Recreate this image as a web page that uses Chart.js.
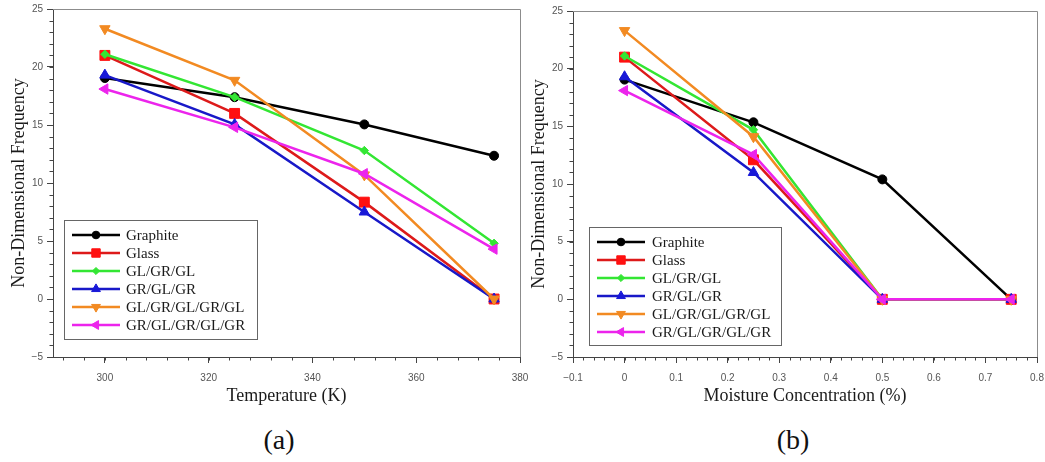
<!DOCTYPE html>
<html>
<head>
<meta charset="utf-8">
<script src="https://cdn.jsdelivr.net/npm/chart.js@4/dist/chart.umd.min.js"></script>
<style>
  html, body { margin: 0; padding: 0; background: #fff; }
  body { width: 1045px; height: 462px; position: relative; overflow: hidden; }
  canvas { position: absolute; top: 0; }
  #ca { left: 0; }
  #cb { left: 520px; }
  .cap { position: absolute; font-family: "Liberation Serif", "Times New Roman", serif; font-size: 28px; color: #111; transform: translate(-50%, -50%); white-space: nowrap; }
</style>
</head>
<body>
<canvas id="ca" width="530" height="420"></canvas>
<canvas id="cb" width="525" height="420"></canvas>
<div class="cap" style="left:279px; top:440px;">(a)</div>
<div class="cap" style="left:793px; top:440px;">(b)</div>
<script>
// ---------- DATA ----------
const seriesNames = ['Graphite', 'Glass', 'GL/GR/GL', 'GR/GL/GR', 'GL/GR/GL/GR/GL', 'GR/GL/GR/GL/GR'];

// (a) Temperature (K)
const temperatureK = [300, 325, 350, 375];
const graphiteA = [19.05, 17.4, 15.05, 12.35];
const glassA    = [21.0, 16.0, 8.35, 0];
const glgrglA   = [21.1, 17.4, 12.8, 4.8];
const grglgrA   = [19.3, 15.05, 7.5, 0];
const glgrglgrglA = [23.3, 18.85, 10.7, 0];
const grglgrglgrA = [18.1, 14.8, 10.8, 4.3];

// (b) Moisture Concentration (%)
const moisturePct = [0, 0.25, 0.5, 0.75];
const graphiteB = [19.05, 15.35, 10.4, 0];
const glassB    = [21.0, 12.1, 0, 0];
const glgrglB   = [21.1, 14.7, 0, 0];
const grglgrB   = [19.3, 11.0, 0, 0];
const glgrglgrglB = [23.3, 14.1, 0, 0];
const grglgrglgrB = [18.1, 12.55, 0, 0];

// tick labels
const yTickValues = [-5, 0, 5, 10, 15, 20, 25];
const xTickValuesA = [300, 320, 340, 360, 380];
const xTickValuesB = [-0.1, 0, 0.1, 0.2, 0.3, 0.4, 0.5, 0.6, 0.7, 0.8];

// ---------- STYLES ----------
const styles = [
  { line: '#000000', fill: '#000000', pointStyle: 'circle',   radius: 4.5, rotation: 0 },
  { line: '#dd1a1a', fill: '#ff1010', pointStyle: 'rect',     radius: 7,   rotation: 0 },
  { line: '#33e633', fill: '#33e633', pointStyle: 'rectRot',  radius: 4.2, rotation: 0 },
  { line: '#1818c8', fill: '#1818d8', pointStyle: 'triangle', radius: 6,   rotation: 0 },
  { line: '#f28a22', fill: '#f28a22', pointStyle: 'triangle', radius: 6,   rotation: 180 },
  { line: '#ec24ec', fill: '#ec24ec', pointStyle: 'triangle', radius: 6,   rotation: -90 }
];

const serif = '"Liberation Serif", "Times New Roman", serif';
const sans = '"Liberation Sans", Arial, sans-serif';
const axisColor = '#444';

function fmt(v) { return String(Math.round(v * 1000) / 1000).replace('-', '\u2212'); }

function makeDatasets(xs, seriesList) {
  return seriesList.map((vals, i) => ({
    label: seriesNames[i],
    data: xs.map((x, k) => ({ x: x, y: vals[k] })),
    borderColor: styles[i].line,
    backgroundColor: styles[i].fill,
    pointBackgroundColor: styles[i].fill,
    pointBorderColor: styles[i].fill,
    pointBorderWidth: 1,
    pointStyle: styles[i].pointStyle,
    pointRadius: styles[i].radius,
    pointRotation: styles[i].rotation,
    borderWidth: 2.5,
    tension: 0,
    order: seriesList.length - 1 - i,
    clip: false
  }));
}

function drawMarker(ctx, st, x, y, scale) {
  const opts = { pointStyle: st.pointStyle, radius: st.radius * scale, rotation: st.rotation, borderWidth: 1 };
  ctx.fillStyle = st.fill; ctx.strokeStyle = st.fill; ctx.lineWidth = 1;
  if (Chart.helpers && Chart.helpers.drawPoint) {
    Chart.helpers.drawPoint(ctx, opts, x, y);
  } else {
    ctx.beginPath(); ctx.arc(x, y, opts.radius, 0, Math.PI * 2); ctx.fill();
  }
}

const framePlugin = {
  id: 'frameMinor',
  afterDraw(chart, args, opts) {
    const { ctx, chartArea: a } = chart;
    const xs = chart.scales.x, ys = chart.scales.y;
    ctx.save();
    ctx.strokeStyle = '#8c8c8c'; ctx.lineWidth = 1;
    ctx.beginPath();
    ctx.moveTo(a.left, Math.round(a.top) + 0.5);
    ctx.lineTo(Math.round(a.right) + 0.5, Math.round(a.top) + 0.5);
    ctx.lineTo(Math.round(a.right) + 0.5, a.bottom);
    ctx.stroke();
    ctx.strokeStyle = axisColor; ctx.lineWidth = 1;
    ctx.beginPath();
    for (let i = 0; i <= opts.xMinorCount; i++) {
      const v = opts.xMinorStart + i * opts.xMinorStep;
      const px = Math.round(xs.getPixelForValue(v)) + 0.5;
      ctx.moveTo(px, a.bottom); ctx.lineTo(px, a.bottom + 3.5);
    }
    for (let v = -5; v <= 25; v++) {
      const py = Math.round(ys.getPixelForValue(v)) + 0.5;
      ctx.moveTo(a.left, py); ctx.lineTo(a.left - 3.5, py);
    }
    ctx.stroke();
    ctx.restore();
  }
};

const legendPlugin = {
  id: 'boxLegend',
  afterDraw(chart, args, o) {
    const ctx = chart.ctx;
    ctx.save();
    ctx.fillStyle = '#fff';
    ctx.fillRect(o.x, o.y, o.w, o.h);
    ctx.strokeStyle = '#666'; ctx.lineWidth = 1;
    ctx.strokeRect(o.x + 0.5, o.y + 0.5, o.w, o.h);
    chart.data.datasets.forEach((ds, i) => {
      const cy = o.y + o.row0 + i * o.rowStep;
      const st = styles[i];
      ctx.strokeStyle = st.line; ctx.lineWidth = 2.5;
      ctx.beginPath(); ctx.moveTo(o.lx1, cy); ctx.lineTo(o.lx2, cy); ctx.stroke();
      drawMarker(ctx, st, (o.lx1 + o.lx2) / 2, cy, 0.85);
      ctx.fillStyle = '#1a1a1a';
      ctx.font = '15px ' + serif;
      ctx.textBaseline = 'middle'; ctx.textAlign = 'left';
      ctx.fillText(ds.label, o.tx, cy + 1);
    });
    ctx.restore();
  }
};

function makeChart(id, cfg) {
  return new Chart(document.getElementById(id), {
    type: 'line',
    data: { datasets: makeDatasets(cfg.xs, cfg.series) },
    options: {
      responsive: false,
      animation: false,
      events: [],
      layout: { padding: { top: cfg.padTop, right: cfg.padRight, left: 0, bottom: 0 } },
      scales: {
        x: {
          type: 'linear',
          min: cfg.xMin, max: cfg.xMax,
          afterBuildTicks: s => { s.ticks = cfg.xTicks.map(v => ({ value: v })); },
          afterFit: s => { s.height = 420 - 357; s.paddingLeft = 0; s.paddingRight = 0; },
          ticks: { font: { family: sans, size: 10 }, color: '#555', padding: 9, callback: v => fmt(v), maxRotation: 0, autoSkip: false },
          grid: { drawOnChartArea: false, drawTicks: true, tickLength: 6, color: axisColor },
          border: { display: true, color: axisColor, width: 1 },
          title: { display: true, text: cfg.xTitle, font: { family: serif, size: 18 }, color: '#1a1a1a', padding: { top: 0, bottom: 13 } }
        },
        y: {
          type: 'linear',
          min: -5, max: 25,
          afterBuildTicks: s => { s.ticks = yTickValues.map(v => ({ value: v })); },
          afterFit: s => { s.width = 53; s.paddingTop = 0; s.paddingBottom = 0; },
          ticks: { font: { family: sans, size: 10 }, color: '#555', padding: 4, callback: v => fmt(v), autoSkip: false },
          grid: { drawOnChartArea: false, drawTicks: true, tickLength: 6, color: axisColor },
          border: { display: true, color: axisColor, width: 1 },
          title: { display: true, text: 'Non-Dimensional Frequency', font: { family: serif, size: 18 }, color: '#1a1a1a', padding: { top: 8, bottom: 0 } }
        }
      },
      plugins: {
        legend: { display: false },
        tooltip: { enabled: false },
        frameMinor: cfg.minor,
        boxLegend: cfg.legend
      }
    },
    plugins: [framePlugin, legendPlugin]
  });
}

makeChart('ca', {
  xs: temperatureK,
  series: [graphiteA, glassA, glgrglA, grglgrA, glgrglgrglA, grglgrglgrA],
  xMin: 290, xMax: 380, xTicks: xTickValuesA,
  xTitle: 'Temperature (K)',
  padTop: 9, padRight: 10,
  minor: { xMinorStart: 292, xMinorStep: 4, xMinorCount: 22 },
  legend: { x: 64, y: 220, w: 193, h: 119, row0: 15, rowStep: 18, lx1: 72, lx2: 120, tx: 126 }
});

makeChart('cb', {
  xs: moisturePct,
  series: [graphiteB, glassB, glgrglB, grglgrB, glgrglgrglB, grglgrglgrB],
  xMin: -0.1, xMax: 0.8, xTicks: xTickValuesB,
  xTitle: 'Moisture Concentration (%)',
  padTop: 11, padRight: 8,
  minor: { xMinorStart: -0.1, xMinorStep: 0.02, xMinorCount: 45 },
  legend: { x: 69, y: 227, w: 192, h: 118, row0: 15, rowStep: 18, lx1: 77, lx2: 125, tx: 132 }
});
</script>
</body>
</html>
